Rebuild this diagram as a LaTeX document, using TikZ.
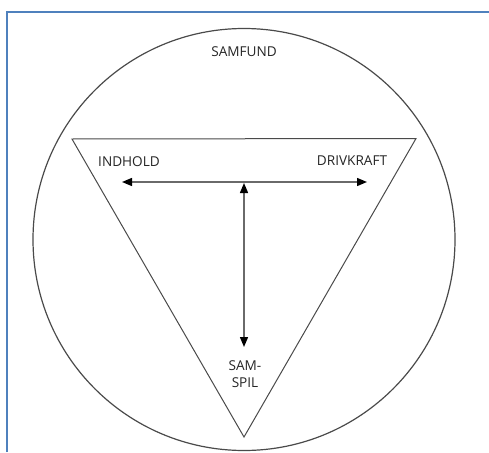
\documentclass[tikz,border=0pt]{standalone}
\usepackage{fontspec}
\setmainfont{Open Sans}
\usetikzlibrary{arrows.meta}
\definecolor{frameblue}{HTML}{4F81BD}
\definecolor{linegray}{HTML}{4A4A4A}
\definecolor{arrowgray}{HTML}{6A6A6A}
\definecolor{txtgray}{HTML}{262626}
\tikzset{
  lbl/.style={font=\fontsize{13.6}{15.5}\selectfont, text=txtgray, inner sep=0pt, align=center},
  tiphead/.style={Triangle[length=10pt,width=8pt,fill=black,color=black]},
  dblarrow/.style={draw=arrowgray, line width=1.4pt, {Triangle[length=10pt,width=8pt,fill=black,color=black]}-{Triangle[length=10pt,width=8pt,fill=black,color=black]}},
  outline/.style={draw=linegray, line width=1.2pt}
}
\begin{document}
\begin{tikzpicture}[x=1pt,y=-1pt]
\useasboundingbox (0,0) rectangle (489,452);
\fill[white] (0,0) rectangle (489,452);
% frame
\draw[frameblue, line width=2pt] (7,452) -- (7,12) -- (489,12);
% circle
\draw[outline] (244,239.5) circle (211);
% triangle
\coordinate (tl) at (72,139);
\coordinate (tr) at (416,138.5);
\coordinate (bt) at (244,437);
\draw[draw=linegray, line width=1pt, line join=miter] (tl) -- (tr) -- (bt) -- cycle;
% labels
\node[lbl] (samfund) at (244,52) {SAMFUND};
\node[lbl] (indhold) at (129,162) {INDHOLD};
\node[lbl] (drivkraft) at (352,161) {DRIVKRAFT};
\node[lbl] (samspil) at (245,374) {SAM-\\[2pt]SPIL};
% arrows
\coordinate (la) at (122,182);
\coordinate (ra) at (367,182);
\coordinate (ta) at (244,183);
\coordinate (ba) at (244,347);
\draw[dblarrow] (la) -- (ra);
\draw[dblarrow] (ta) -- (ba);
\end{tikzpicture}
\end{document}
